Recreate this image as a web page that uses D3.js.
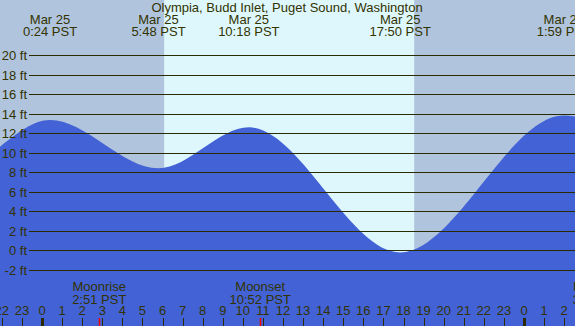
<!DOCTYPE html>
<html>
<head>
<meta charset="utf-8">
<script src="https://cdn.jsdelivr.net/npm/d3@7"></script>
<style>
  html, body { margin: 0; padding: 0; background: #b0c4de; }
  svg { display: block; font-family: "Liberation Sans", Arial, sans-serif; }
</style>
</head>
<body>
<div class="tide-chart"></div>
<script>
(function(){
  'use strict';

  // tide extremes (hours from Mar 25 0:00 PST) and heights in ft
  var tideDates  = ['Mar 25', 'Mar 25', 'Mar 25', 'Mar 25', 'Mar 26'];
  var tideTimes  = ['0:24', '5:48', '10:18', '17:50', '1:59'];
  var tideHeights = [13.35, 8.4, 12.6, -0.2, 13.8];

  // heights read at the left and right edges of the picture
  var edgeHeights = [10.6, 13.7];

  // sun and moon
  var sunTimes  = ['6:05', '18:32'];
  var moonNames = ['Moonrise', 'Moonset', 'Moonrise'];
  var moonTimes = ['2:51', '10:52', '3:46'];
  var moonDays  = [0, 0, 1];

  var gridFeet = [-2, 0, 2, 4, 6, 8, 10, 12, 14, 16, 18, 20];
  var title = 'Olympia, Budd Inlet, Puget Sound, Washington';

  var W = 575, H = 326;
  var textColor = '#333300';

  function toHours(t, day){
    var p = t.split(':');
    return (day || 0) * 24 + (+p[0]) + (+p[1]) / 60;
  }

  var x = d3.scaleLinear().domain([0, 24]).range([42, 524]);
  var y = d3.scaleLinear().domain([-2, 20]).range([270, 55]);

  var svg = d3.select('.tide-chart').append('svg')
    .attr('width', W).attr('height', H);

  // night / day background
  var sunrise = toHours(sunTimes[0]), sunset = toHours(sunTimes[1]);
  svg.append('rect').attr('x', 0).attr('y', 0).attr('width', W).attr('height', H)
    .attr('fill', '#b0c4de');
  svg.append('rect')
    .attr('x', x(sunrise)).attr('y', 0)
    .attr('width', x(sunset) - x(sunrise)).attr('height', H)
    .attr('fill', '#ddf7fd');

  // tide curve
  var pts = [];
  pts.push([x.invert(0), edgeHeights[0]]);
  tideTimes.forEach(function(t, i){
    pts.push([toHours(t, tideDates[i] === 'Mar 26' ? 1 : 0), tideHeights[i]]);
  });
  pts.push([x.invert(W), edgeHeights[1]]);

  var area = d3.area()
    .x(function(d){ return x(d[0]); })
    .y0(H)
    .y1(function(d){ return y(d[1]); })
    .curve(d3.curveMonotoneX);

  svg.append('path').datum(pts)
    .attr('d', area)
    .attr('fill', '#4262d6');

  // grid lines + labels
  var grid = svg.append('g');
  grid.selectAll('line').data(gridFeet).enter().append('line')
    .attr('x1', 29).attr('x2', W)
    .attr('y1', function(d){ return Math.round(y(d)) + 0.5; })
    .attr('y2', function(d){ return Math.round(y(d)) + 0.5; })
    .attr('stroke', '#2b2b00').attr('stroke-width', 1);
  grid.selectAll('text').data(gridFeet).enter().append('text')
    .attr('x', 27)
    .attr('y', function(d){ return Math.round(y(d)) + 5; })
    .attr('text-anchor', 'end')
    .attr('font-size', 13)
    .attr('fill', textColor)
    .text(function(d){ return d + ' ft'; });

  // title
  svg.append('text')
    .attr('x', 287).attr('y', 12)
    .attr('text-anchor', 'middle')
    .attr('font-size', 13)
    .attr('fill', textColor)
    .text(title);

  // extreme labels
  var top = svg.append('g').attr('font-size', 13).attr('fill', textColor)
    .attr('text-anchor', 'middle');
  tideTimes.forEach(function(t, i){
    var h = toHours(t, tideDates[i] === 'Mar 26' ? 1 : 0);
    top.append('text').attr('x', x(h)).attr('y', 24).text(tideDates[i]);
    top.append('text').attr('x', x(h)).attr('y', 36).text(t + ' PST');
  });

  // moon labels + red ticks
  var moon = svg.append('g').attr('font-size', 13).attr('fill', textColor)
    .attr('text-anchor', 'middle');
  moonTimes.forEach(function(t, i){
    var h = toHours(t, moonDays[i]);
    moon.append('text').attr('x', x(h)).attr('y', 291).text(moonNames[i]);
    moon.append('text').attr('x', x(h)).attr('y', 304).text(t + ' PST');
    svg.append('line')
      .attr('x1', Math.round(x(h)) + 0.5).attr('x2', Math.round(x(h)) + 0.5)
      .attr('y1', 318).attr('y2', H)
      .attr('stroke', '#ff0000').attr('stroke-width', 1.5);
  });

  // hour axis
  var hours = d3.range(-2, 28);
  var axis = svg.append('g');
  axis.selectAll('line').data(hours).enter().append('line')
    .attr('x1', function(d){ return Math.round(x(d)) + 0.5; })
    .attr('x2', function(d){ return Math.round(x(d)) + 0.5; })
    .attr('y1', 318).attr('y2', H)
    .attr('stroke', '#2b2b00')
    .attr('stroke-width', function(d){ return (d % 24 === 0) ? 3 : 1; });
  axis.selectAll('text').data(hours).enter().append('text')
    .attr('x', function(d){ return x(d); })
    .attr('y', 315)
    .attr('text-anchor', 'middle')
    .attr('font-size', 13)
    .attr('fill', textColor)
    .text(function(d){ return ((d % 24) + 24) % 24; });

})();
</script>
</body>
</html>
